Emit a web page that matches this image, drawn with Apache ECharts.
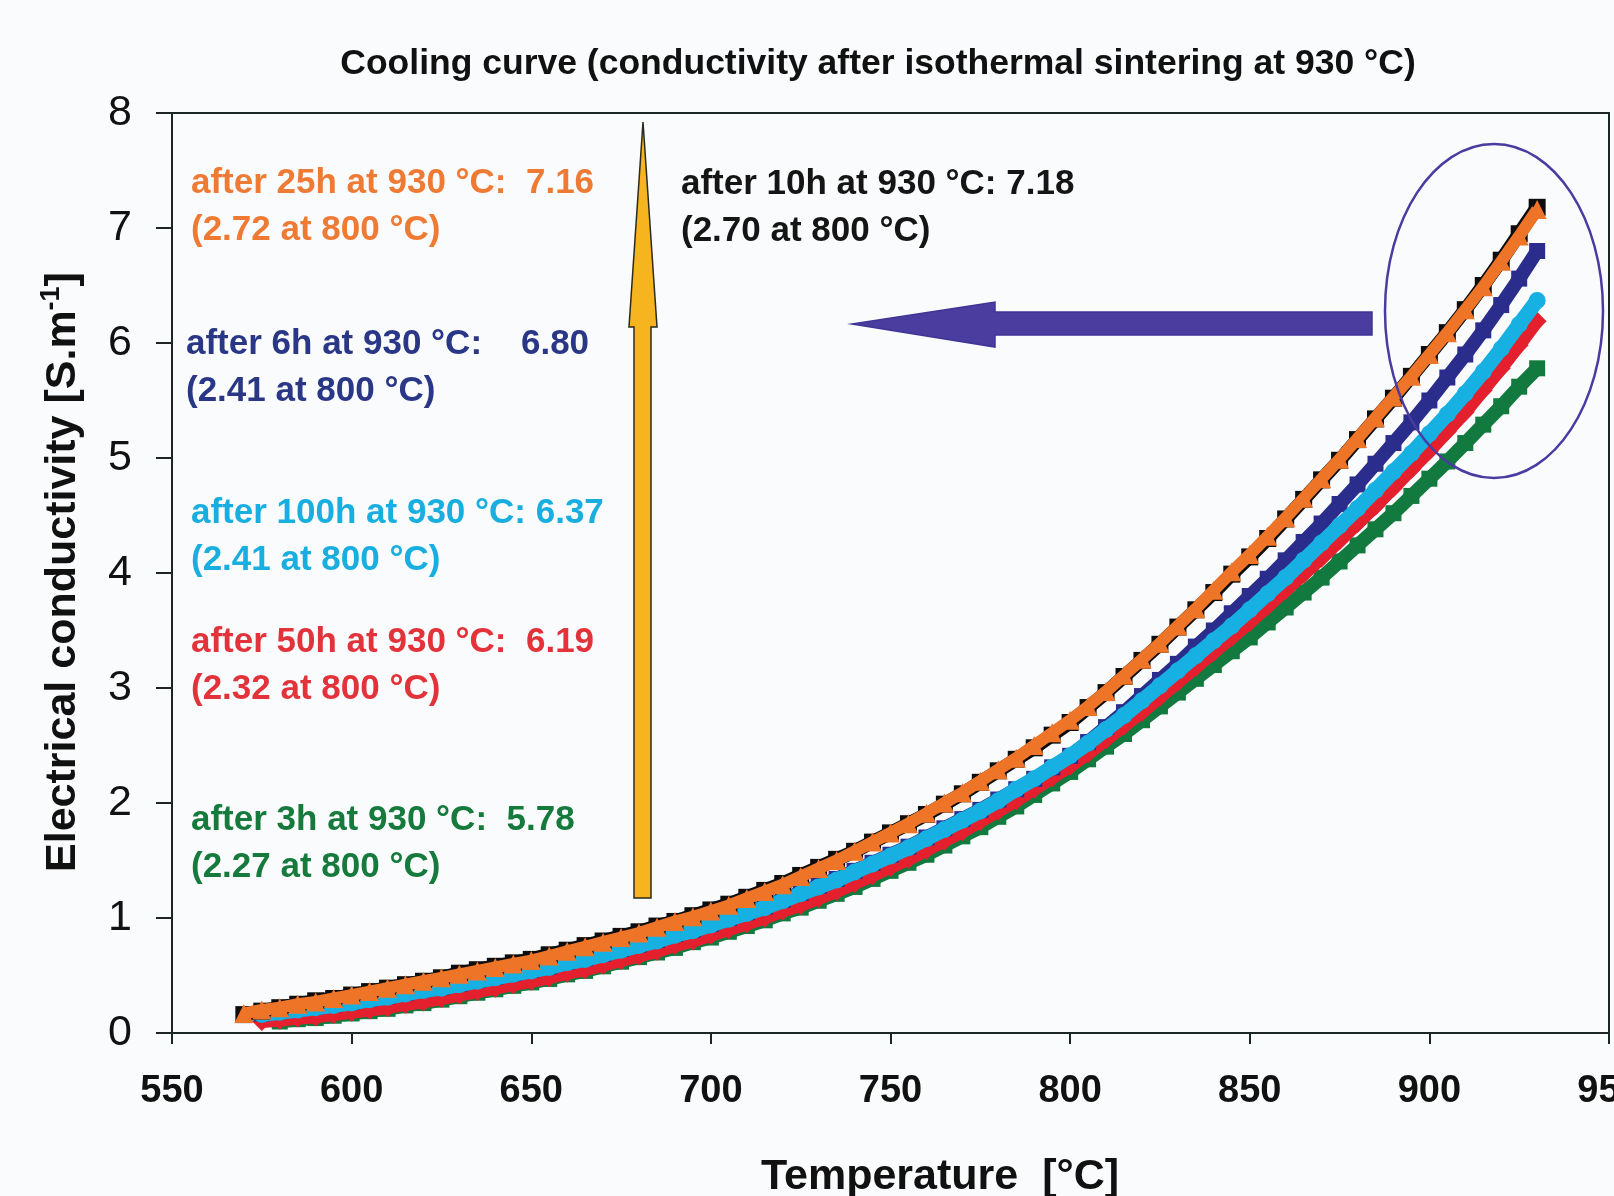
<!DOCTYPE html>
<html>
<head>
<meta charset="utf-8">
<title>Cooling curve</title>
<script src="https://cdn.jsdelivr.net/npm/echarts@6/dist/echarts.min.js"></script>
<style>
  html, body { margin: 0; padding: 0; background: #fafbfd; }
  #chart { width: 1614px; height: 1196px; }
</style>
</head>
<body>
<div id="chart"></div>
<script>
// Temperature grid of the cooling measurements [°C]
const tempsC = [570,575,580,585,590,595,600,605,610,615,620,625,630,635,640,645,650,655,660,665,
  670,675,680,685,690,695,700,705,710,715,720,725,730,735,740,745,750,755,760,765,
  770,775,780,785,790,795,800,805,810,815,820,825,830,835,840,845,850,855,860,865,
  870,875,880,885,890,895,900,905,910,915,920,925,930];

// Electrical conductivity [S/m] after the given dwell time at 930 °C
const sigma10h = [0.16,0.19,0.22,0.25,0.28,0.30,0.33,0.36,0.39,0.42,
  0.45,0.48,0.52,0.55,0.58,0.61,0.64,0.68,0.72,0.76,
  0.80,0.84,0.88,0.93,0.97,1.02,1.07,1.12,1.18,1.24,
  1.30,1.37,1.44,1.51,1.58,1.66,1.74,1.82,1.90,1.99,
  2.08,2.18,2.28,2.38,2.48,2.59,2.70,2.83,2.96,3.10,
  3.24,3.38,3.53,3.68,3.83,3.99,4.14,4.30,4.47,4.64,
  4.81,4.98,5.16,5.34,5.52,5.71,5.90,6.09,6.29,6.50,
  6.72,6.95,7.18];

const sigma25h = [0.17,0.20,0.22,0.25,0.27,0.30,0.33,0.36,0.39,0.42,
  0.45,0.48,0.51,0.54,0.57,0.60,0.63,0.67,0.71,0.75,
  0.79,0.83,0.87,0.92,0.97,1.01,1.06,1.11,1.17,1.23,
  1.29,1.36,1.43,1.50,1.58,1.66,1.74,1.82,1.91,2.00,
  2.09,2.19,2.29,2.39,2.50,2.61,2.72,2.84,2.97,3.11,
  3.25,3.39,3.54,3.69,3.85,4.01,4.16,4.32,4.48,4.65,
  4.82,4.99,5.17,5.35,5.53,5.71,5.90,6.09,6.29,6.49,
  6.71,6.93,7.16];

const sigma6h = [null,0.17,0.19,0.21,0.23,0.25,0.27,0.30,0.32,0.35,
  0.38,0.40,0.43,0.46,0.49,0.52,0.55,0.58,0.62,0.65,
  0.69,0.73,0.77,0.81,0.86,0.90,0.95,1.00,1.05,1.10,
  1.16,1.22,1.28,1.34,1.41,1.48,1.55,1.62,1.70,1.78,
  1.86,1.94,2.03,2.12,2.21,2.31,2.41,2.53,2.66,2.79,
  2.93,3.07,3.21,3.36,3.50,3.65,3.80,3.95,4.11,4.27,
  4.43,4.60,4.77,4.95,5.13,5.31,5.50,5.70,5.90,6.11,
  6.33,6.56,6.80];

const sigma100h = [null,0.16,0.18,0.20,0.22,0.24,0.26,0.29,0.31,0.34,
  0.37,0.39,0.42,0.45,0.48,0.51,0.54,0.57,0.61,0.64,
  0.68,0.72,0.76,0.80,0.85,0.89,0.94,0.99,1.04,1.09,
  1.15,1.21,1.27,1.33,1.40,1.47,1.54,1.61,1.69,1.77,
  1.85,1.93,2.02,2.12,2.21,2.31,2.41,2.52,2.64,2.76,
  2.89,3.02,3.15,3.28,3.41,3.54,3.68,3.82,3.96,4.11,
  4.26,4.41,4.56,4.72,4.88,5.04,5.21,5.38,5.56,5.75,
  5.95,6.16,6.37];

const sigma50h = [null,0.10,0.11,0.13,0.14,0.16,0.18,0.20,0.22,0.25,
  0.27,0.30,0.33,0.36,0.39,0.42,0.45,0.48,0.52,0.55,
  0.59,0.63,0.67,0.71,0.76,0.80,0.85,0.90,0.95,1.00,
  1.06,1.11,1.17,1.23,1.30,1.37,1.44,1.51,1.59,1.67,
  1.75,1.84,1.93,2.02,2.12,2.22,2.32,2.43,2.55,2.67,
  2.79,2.92,3.05,3.18,3.31,3.44,3.57,3.71,3.85,3.99,
  4.13,4.28,4.43,4.58,4.74,4.90,5.06,5.23,5.40,5.59,
  5.78,5.98,6.19];

const sigma3h = [null,null,0.10,0.12,0.13,0.15,0.17,0.19,0.21,0.24,
  0.26,0.29,0.32,0.35,0.38,0.41,0.44,0.47,0.51,0.54,
  0.58,0.62,0.66,0.70,0.74,0.79,0.83,0.88,0.93,0.98,
  1.04,1.09,1.15,1.21,1.27,1.34,1.41,1.48,1.55,1.63,
  1.71,1.79,1.88,1.97,2.07,2.17,2.27,2.38,2.49,2.60,
  2.72,2.84,2.96,3.08,3.20,3.32,3.44,3.57,3.70,3.83,
  3.96,4.10,4.24,4.38,4.52,4.67,4.82,4.97,5.13,5.29,
  5.45,5.62,5.78];

// Axis ticks
const xTicks = { min: 550, max: 950, step: 50 };
const yTicks = { min: 0, max: 8, step: 1 };

// Annotation texts
const titleText = 'Cooling curve (conductivity after isothermal sintering at 930 °C)';
const xName = 'Temperature  [°C]';
const notes = [
  { l1: 'after 25h at 930 °C:  7.16', l2: '(2.72 at 800 °C)', color: '#ee7a33', x: 191, y: 183 },
  { l1: 'after 10h at 930 °C: 7.18', l2: '(2.70 at 800 °C)', color: '#151515', x: 681, y: 184 },
  { l1: 'after 6h at 930 °C:    6.80', l2: '(2.41 at 800 °C)', color: '#2a3787', x: 186, y: 344 },
  { l1: 'after 100h at 930 °C: 6.37', l2: '(2.41 at 800 °C)', color: '#18aee0', x: 191, y: 513 },
  { l1: 'after 50h at 930 °C:  6.19', l2: '(2.32 at 800 °C)', color: '#e2333b', x: 191, y: 642 },
  { l1: 'after 3h at 930 °C:  5.78', l2: '(2.27 at 800 °C)', color: '#167a3c', x: 191, y: 820 }
];

const FONT = '"Liberation Sans", Arial, Helvetica, sans-serif';
const AXIS_COLOR = '#1c2424';

function pairs(vals) {
  return tempsC.map((t, i) => [t, vals[i]]).filter(p => p[1] !== null);
}

function curve(name, vals, color, symbol, size, width, z) {
  return {
    name: name,
    type: 'line',
    data: pairs(vals),
    symbol: symbol,
    symbolSize: size,
    showSymbol: true,
    smooth: false,
    z: z,
    lineStyle: { color: color, width: width },
    itemStyle: { color: color, borderWidth: 0 },
    emphasis: { disabled: true }
  };
}

const texts = [];
notes.forEach(n => {
  [n.l1, n.l2].forEach((s, k) => {
    texts.push({
      type: 'text', x: n.x, y: n.y + k * 47, z: 100,
      style: {
        text: s, fill: n.color, font: 'bold 35px ' + FONT,
        align: 'left', verticalAlign: 'middle',
        textAlign: 'left', textVerticalAlign: 'middle'
      }
    });
  });
});

const chart = echarts.init(document.getElementById('chart'), null, { renderer: 'canvas' });

chart.setOption({
  backgroundColor: '#fafbfd',
  animation: false,
  grid: {
    left: 172, right: 5, top: 113, bottom: 163,
    containLabel: false, outerBoundsMode: 'none',
    show: true, borderColor: AXIS_COLOR, borderWidth: 2, backgroundColor: 'transparent'
  },
  xAxis: {
    type: 'value', min: xTicks.min, max: xTicks.max, interval: xTicks.step,
    axisLine: { show: true, lineStyle: { color: AXIS_COLOR, width: 2 } },
    axisTick: { show: true, inside: false, length: 11, lineStyle: { color: AXIS_COLOR, width: 2 } },
    axisLabel: { fontSize: 38, fontWeight: 'bold', fontFamily: FONT, color: '#111', margin: 40 },
    splitLine: { show: false }
  },
  yAxis: {
    type: 'value', min: yTicks.min, max: yTicks.max, interval: yTicks.step,
    axisLine: { show: true, lineStyle: { color: AXIS_COLOR, width: 2 } },
    axisTick: { show: true, inside: false, length: 16, lineStyle: { color: AXIS_COLOR, width: 2 } },
    axisLabel: { fontSize: 43, fontFamily: FONT, color: '#111', margin: 40 },
    splitLine: { show: false }
  },
  series: [
    curve('after 3h', sigma3h, '#137a3f', 'rect', 16, 14, 2),
    curve('after 50h', sigma50h, '#e4202e', 'diamond', 19, 13, 3),
    curve('after 6h', sigma6h, '#2b2d8c', 'rect', 16, 14, 4),
    curve('after 100h', sigma100h, '#16b0e2', 'circle', 17, 15, 5),
    curve('after 10h', sigma10h, '#0d0d0d', 'rect', 17, 14, 6),
    curve('after 25h', sigma25h, '#ee7428', 'triangle', 19, 12, 7)
  ],
  graphic: [
    {
      type: 'text', x: 878, y: 64, z: 100,
      style: {
        text: titleText, fill: '#111', font: 'bold 35.5px ' + FONT,
        align: 'center', verticalAlign: 'middle', textAlign: 'center', textVerticalAlign: 'middle'
      }
    },
    {
      type: 'text', x: 940, y: 1177, z: 100,
      style: {
        text: xName, fill: '#111', font: 'bold 43px ' + FONT,
        align: 'center', verticalAlign: 'middle', textAlign: 'center', textVerticalAlign: 'middle'
      }
    },
    {
      type: 'text', x: 63, y: 572, rotation: Math.PI / 2, z: 100,
      style: {
        text: '{m|Electrical conductivity [S.m}{s|-1}{m|]}',
        align: 'center', verticalAlign: 'middle', textAlign: 'center', textVerticalAlign: 'middle',
        rich: {
          m: { font: 'bold 43px ' + FONT, fill: '#111', lineHeight: 50 },
          s: { font: 'bold 27px ' + FONT, fill: '#111', lineHeight: 50, verticalAlign: 'top' }
        }
      }
    },
    // golden upward arrow
    {
      type: 'polygon', z: 90,
      shape: { points: [[643, 122], [657, 327], [651, 327], [651, 898], [634, 898], [634, 327], [629, 327]] },
      style: { fill: '#f6b51f', stroke: '#2a2a20', lineWidth: 1.5 }
    },
    // violet leftward arrow
    {
      type: 'polygon', z: 90,
      shape: { points: [[852, 324], [995, 302], [995, 312], [1372, 312], [1372, 335], [995, 335], [995, 347]] },
      style: { fill: '#4b3c9f', stroke: '#3f3596', lineWidth: 1.5 }
    },
    // ellipse around the 930 °C end values
    {
      type: 'ellipse', z: 95,
      shape: { cx: 1494, cy: 311, rx: 109, ry: 167 },
      style: { fill: 'none', stroke: '#4a3ba0', lineWidth: 2.5 }
    }
  ].concat(texts)
});
</script>
</body>
</html>
